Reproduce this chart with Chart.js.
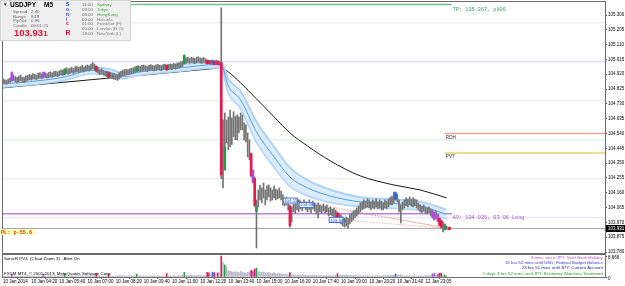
<!DOCTYPE html>
<html lang="en">

<head>
    <meta charset="UTF-8">
    <title>USDJPY M5</title>
    <style>
        html, body { margin: 0; padding: 0; background: #fff; }
        #wrap { position: relative; width: 625px; height: 286px; overflow: hidden; }
        canvas { position: absolute; left: 0; }
        #mainChart { top: 0; }
        #volChart { top: 254px; }
    </style>
</head>

<body>
    <div id="wrap">
        <canvas id="mainChart" width="625" height="254"></canvas>
        <canvas id="volChart" width="625" height="32"></canvas>
    </div>

    <script src="https://cdn.jsdelivr.net/npm/chart.js"></script>

    <script>
        // ---- data ----
        const lows = [
            104.862, 104.858, 104.855, 104.860, 104.868, 104.875, 104.880, 104.872, 104.865, 104.870,
            104.878, 104.870, 104.866, 104.872, 104.880, 104.885, 104.882, 104.888, 104.890, 104.885,
            104.892, 104.895, 104.890, 104.896, 104.900, 104.895, 104.898, 104.902, 104.900, 104.905,
            104.908, 104.905, 104.910, 104.915, 104.912, 104.918, 104.925, 104.920, 104.926, 104.930,
            104.925, 104.932, 104.935, 104.930, 104.936, 104.940, 104.935, 104.942, 104.945, 104.940,
            104.950, 104.955, 104.945, 104.935, 104.925, 104.918, 104.922, 104.915, 104.910, 104.905,
            104.898, 104.900, 104.892, 104.888, 104.885, 104.880, 104.890, 104.900, 104.908, 104.912,
            104.918, 104.915, 104.920, 104.925, 104.928, 104.930, 104.935, 104.940, 104.936, 104.940,
            104.945, 104.942, 104.938, 104.945, 104.948, 104.944, 104.940, 104.946, 104.950, 104.946,
            104.942, 104.948, 104.952, 104.945, 104.948, 104.952, 104.950, 104.955, 104.952, 104.958,
            104.960, 104.965, 104.970, 104.985, 104.990, 104.995, 104.990, 104.995, 104.992, 104.988,
            104.995, 104.998, 104.992, 104.990, 104.995, 104.990, 104.985, 104.988, 104.982, 104.985,
            104.980, 104.984, 104.980, 104.978,
            104.250, 104.191, 104.306, 104.480, 104.435, 104.454, 104.470, 104.520, 104.500, 104.499,
            104.544, 104.563, 104.563, 104.499, 104.486, 104.390, 104.371, 104.261, 104.223, 104.069,
            103.806, 104.069, 104.114, 104.095, 104.127, 104.082, 104.114, 104.133, 104.107, 104.114,
            104.127, 104.114, 104.120, 104.127, 104.114, 104.082, 104.075, 104.082, 104.050, 103.940,
            103.973, 104.037, 104.030, 104.050, 104.037, 104.056, 104.043, 104.062, 104.050, 104.037,
            104.050, 104.030, 104.056, 104.043, 104.024, 103.998, 104.037, 104.030, 104.043, 104.030,
            104.037, 104.011, 104.018, 104.011, 103.998, 103.985, 103.966, 103.973, 103.960, 103.947,
            103.940, 103.947, 103.934, 103.960, 103.973, 103.985, 103.998, 104.011, 104.024, 104.037,
            104.050, 104.056, 104.062, 104.069, 104.062, 104.050, 104.062, 104.056, 104.069, 104.056,
            104.062, 104.050, 104.050, 104.062, 104.056, 104.069, 104.082, 104.082, 104.095, 104.114,
            104.101, 104.037, 103.966, 104.050, 104.062, 104.075, 104.069, 104.082, 104.075, 104.069,
            104.075, 104.062, 104.050, 104.037, 104.030, 104.043, 104.030, 104.024, 104.030, 104.011,
            103.998, 103.985, 103.992, 103.973, 103.947, 103.934, 103.908, 103.921, 103.925
        ];
        const highs = [
            104.893, 104.884, 104.880, 104.890, 104.895, 104.935, 104.915, 104.905, 104.900, 104.908,
            104.915, 104.902, 104.898, 104.910, 104.912, 104.920, 104.915, 104.925, 104.920, 104.915,
            104.928, 104.930, 104.922, 104.935, 104.930, 104.925, 104.932, 104.936, 104.930, 104.938,
            104.940, 104.935, 104.942, 104.948, 104.945, 104.955, 104.962, 104.955, 104.960, 104.965,
            104.958, 104.968, 104.972, 104.965, 104.970, 104.978, 104.968, 104.975, 104.980, 104.975,
            104.985, 104.995, 104.985, 104.975, 104.962, 104.950, 104.955, 104.945, 104.940, 104.938,
            104.935, 104.930, 104.925, 104.922, 104.918, 104.915, 104.930, 104.938, 104.945, 104.950,
            104.952, 104.948, 104.955, 104.958, 104.962, 104.968, 104.972, 104.975, 104.970, 104.978,
            104.980, 104.975, 104.972, 104.978, 104.982, 104.976, 104.975, 104.980, 104.984, 104.978,
            104.975, 104.982, 104.985, 104.980, 104.983, 104.986, 104.984, 104.990, 104.986, 104.992,
            104.995, 105.000, 105.005, 105.045, 105.025, 105.030, 105.022, 105.028, 105.025, 105.020,
            105.030, 105.032, 105.025, 105.022, 105.028, 105.020, 105.012, 105.010, 105.008, 105.012,
            105.005, 105.010, 105.006, 105.002,
            105.346, 104.627, 104.672, 104.627, 104.647, 104.691, 104.640, 104.680, 104.650, 104.659,
            104.647, 104.672, 104.659, 104.608, 104.595, 104.544, 104.499, 104.415, 104.306, 104.261,
            104.114, 104.178, 104.210, 104.191, 104.223, 104.178, 104.204, 104.210, 104.191, 104.178,
            104.204, 104.184, 104.178, 104.191, 104.171, 104.146, 104.127, 104.133, 104.114, 104.082,
            104.069, 104.095, 104.088, 104.101, 104.114, 104.107, 104.095, 104.114, 104.101, 104.088,
            104.114, 104.095, 104.107, 104.095, 104.082, 104.095, 104.082, 104.075, 104.088, 104.075,
            104.082, 104.062, 104.069, 104.056, 104.062, 104.050, 104.037, 104.024, 104.018, 104.005,
            103.998, 104.005, 103.998, 104.018, 104.030, 104.043, 104.050, 104.062, 104.075, 104.095,
            104.101, 104.114, 104.107, 104.120, 104.114, 104.101, 104.114, 104.107, 104.120, 104.101,
            104.114, 104.107, 104.095, 104.114, 104.107, 104.120, 104.133, 104.139, 104.165, 104.165,
            104.152, 104.114, 104.082, 104.101, 104.114, 104.127, 104.120, 104.133, 104.120, 104.127,
            104.120, 104.114, 104.095, 104.082, 104.075, 104.082, 104.069, 104.062, 104.069, 104.056,
            104.050, 104.037, 104.043, 104.024, 103.998, 103.985, 103.973, 103.960, 103.945
        ];
        const volumes = [
            420, 380, 300, 350, 410, 1300, 520, 380, 300, 360,
            410, 330, 290, 380, 450, 520, 400, 470, 380, 350,
            430, 460, 380, 1200, 420, 360, 390, 450, 380, 420,
            460, 390, 420, 480, 520, 1400, 560, 430, 480, 510,
            440, 490, 530, 420, 460, 510, 400, 470, 520, 450,
            560, 640, 520, 1500, 610, 480, 420, 450, 390, 370,
            1300, 400, 380, 430, 410, 470, 520, 560, 490, 450,
            420, 400, 450, 480, 430, 460, 1200, 480, 430, 400,
            430, 390, 370, 420, 450, 400, 380, 420, 460, 410,
            380, 430, 470, 1400, 420, 450, 400, 480, 430, 520,
            560, 620, 700, 1900, 820, 760, 650, 690, 610, 580,
            640, 700, 620, 580, 650, 600, 1900, 1700, 900, 2000,
            1800, 1000, 1700, 1100,
            8666, 6200, 5000, 4200, 2600, 2300,
            2100, 1900, 2200, 2000, 1800, 2300, 2000, 1700, 1600, 1900, 2100,
            2800, 2500, 3300, 3700,
            2200, 2000, 1900, 2100, 1800, 1700, 1900, 1600, 1500, 1700, 1400, 1300, 1500, 1200, 1100,
            1000, 1200, 900,
            1800,
            900, 800, 850, 700, 750, 650, 700, 800, 600, 650, 700, 550, 600, 650, 700, 550, 500, 600, 550, 500,
            650, 600, 550, 500, 600, 700,
            1400,
            700, 650, 800, 750, 900, 700, 650, 600, 550,
            600, 550, 500, 480, 520, 450, 500, 550, 480, 420, 460, 500, 440, 480, 520, 460, 500, 550, 600, 650,
            700, 800, 750,
            1200,
            700, 650, 900,
            500, 450, 480, 420, 460, 400, 440, 420, 380, 400, 450, 420, 480, 500,
            550, 600, 650,
            1300, 1400,
            700,
            1200, 1500, 1600,
            900, 800, 600
        ];

        // SonicR PVA coloured candles: bar index, open, close, kind
        const pvaIdx = [5, 23, 35, 53, 60, 76, 93, 103, 116, 117, 119, 120, 122, 124, 126, 141, 142, 143, 144, 163, 190, 223, 244, 245, 247, 248, 249, 251];
        const pvaOpen = [104.880, 104.900, 104.920, 104.970, 104.930, 104.938, 104.978, 104.988, 105.010, 105.008, 104.990, 105.004, 105.004, 104.993, 104.306, 104.410, 104.300, 104.250, 104.040, 104.075, 104.030, 104.120, 104.045, 104.030, 104.020, 103.995, 103.980, 103.925];
        const pvaClose = [104.930, 104.932, 104.952, 104.940, 104.900, 104.968, 104.948, 105.040, 104.988, 104.990, 105.008, 104.982, 104.982, 104.274, 104.454, 104.270, 104.230, 104.080, 104.070, 103.950, 103.975, 104.160, 104.005, 103.990, 103.980, 103.952, 103.940, 103.955];
        const pvaType = ['P', 'P', 'G', 'R', 'R', 'G', 'R', 'G', 'R', 'R', 'B', 'R', 'R', 'R', 'G', 'R', 'P', 'R', 'G', 'R', 'R', 'B', 'P', 'P', 'P', 'R', 'R', 'G'];

        // moving averages, read at a few bars
        const maIdx = [0, 15, 34, 51, 61, 67, 78, 102, 121, 124, 128, 135, 144, 154, 163, 173, 186, 203, 222, 237, 252];
        const slowMA = [104.833, 104.849, 104.868, 104.886, 104.896, 104.902, 104.913, 104.938, 104.958, 104.961, 104.935, 104.865, 104.762, 104.647, 104.544, 104.460, 104.364, 104.268, 104.210, 104.178, 104.127];
        const bandMid = [104.858, 104.872, 104.900, 104.945, 104.932, 104.912, 104.935, 104.962, 104.982, 104.978, 104.845, 104.756, 104.550, 104.390, 104.261, 104.191, 104.139, 104.101, 104.090, 104.075, 104.022];
        const bandHigh = [104.878, 104.892, 104.920, 104.965, 104.952, 104.932, 104.955, 104.982, 105.002, 104.998, 104.890, 104.811, 104.615, 104.455, 104.321, 104.241, 104.179, 104.131, 104.118, 104.103, 104.052];
        const bandLow = [104.838, 104.852, 104.880, 104.925, 104.912, 104.892, 104.915, 104.942, 104.962, 104.958, 104.800, 104.701, 104.485, 104.325, 104.201, 104.141, 104.099, 104.071, 104.062, 104.047, 103.992];

        // horizontal objects
        const levelNames = ['TP', 'r2', 'round', 'r1', 'RDH', 'green', 'PVT', 's1', 'AV', 'round2', 'bid'];
        const levelPrices = [105.367, 105.250, 105.000, 104.750, 104.540, 104.499, 104.415, 104.249, 104.026, 104.000, 103.931];
        const levelFrom = [0, 0, 0, 0, 251, 0, 251, 0, 0, 0, 0];
        const levelTo = [255, 342, 342, 342, 342, 342, 342, 342, 255, 342, 342];

        // open trades
        const tradeIdx = [159, 168, 185];
        const tradePrice = [104.110, 104.082, 103.985];
        const tradeText = ['104.110', '104.082', '103.985'];

        const lastPrice = 103.931;
        const lastIdx = 253.5;

        const priceTicks = [103.780, 103.875, 103.970, 104.065, 104.160, 104.255, 104.350, 104.445, 104.540, 104.635, 104.730, 104.825, 104.920, 105.015, 105.110, 105.205, 105.300];
        const timeTickIdx = [0, 16, 32, 48, 64, 80, 96, 112, 128, 144, 160, 176, 192, 208, 224, 240];
        const timeLabels = ['10 Jan 2014', '10 Jan 04:20', '10 Jan 05:40', '10 Jan 07:00', '10 Jan 08:20', '10 Jan 09:40', '10 Jan 11:00', '10 Jan 12:20', '10 Jan 13:40', '10 Jan 15:00', '10 Jan 16:20', '10 Jan 17:40', '10 Jan 19:00', '10 Jan 20:20', '10 Jan 21:40', '12 Jan 23:05'];

        // ---- styles ----
        const SLOTS = 342;
        const PVA_COLORS = { R: '#e3194f', G: '#1e9e48', B: '#2f62e8', P: '#b44be6' };
        const levelColors = ['#70c090', '#e6e6e6', '#d2d2f6', '#e8e8e8', '#f2a49c', '#d6efd6', '#e2d466', '#ebebeb', '#c07ee6', '#e2e2f4', '#a6a6a6'];
        const levelWidths = [1.5, 1, 1, 1, 1.5, 1, 1.5, 1, 1.5, 1, 1];
        const FONT = "'Liberation Sans', Arial, sans-serif";
        const MONO = "'Liberation Mono', 'DejaVu Sans Mono', monospace";

        Chart.defaults.font.family = FONT;
        Chart.defaults.animation = false;

        function pts(xs, ys) {
            return xs.map((x, k) => ({ x: x, y: ys[k] }));
        }

        // keep the plot area exactly where the frame is
        function noPadding(s) {
            s.paddingTop = 0;
            s.paddingBottom = 0;
            s.paddingLeft = 0;
            s.paddingRight = 0;
        }

        const volColor = lows.map((v, i) => {
            const k = pvaIdx.indexOf(i);
            return k >= 0 ? PVA_COLORS[pvaType[k]] : '#b9b9c9';
        });

        const levelSets = levelPrices.map((p, k) => ({
            type: 'line',
            data: [{ x: levelFrom[k], y: p }, { x: levelTo[k], y: p }],
            borderColor: levelColors[k],
            borderWidth: levelWidths[k],
            pointRadius: 0,
            order: 20
        }));

        const tradeLines = tradeIdx.map((t, k) => ({
            type: 'line',
            data: [{ x: t + 8, y: tradePrice[k] }, { x: lastIdx, y: lastPrice }],
            borderColor: '#f08a80',
            borderWidth: 1,
            borderDash: [1, 2],
            pointRadius: 0,
            order: 3
        }));

        // text and frame drawn on top of the main panel
        const mainDecor = {
            id: 'mainDecor',
            afterDraw(chart) {
                const { ctx, chartArea: a, scales: { x, y } } = chart;
                ctx.save();
                ctx.strokeStyle = '#6c6c6c';
                ctx.lineWidth = 1;
                ctx.strokeRect(a.left - 0.5, a.top - 0.5, a.right - a.left + 1, a.bottom - a.top + 1);

                ctx.textBaseline = 'top';
                // TP / AV object texts
                ctx.font = '5.2px ' + MONO;
                ctx.fillStyle = '#3c9a66';
                ctx.fillText('TP: 105.367, p806', x.getPixelForValue(levelTo[0]) + 1, y.getPixelForValue(levelPrices[0]) + 2);
                ctx.fillStyle = '#a050e0';
                ctx.fillText('AV: 104.026, 03:06 Long', x.getPixelForValue(levelTo[8]) + 1, y.getPixelForValue(levelPrices[8]) + 1);

                ctx.font = '4.6px ' + FONT;
                ctx.fillStyle = '#303030';
                ctx.fillText('RDH', x.getPixelForValue(levelFrom[4]) + 1, y.getPixelForValue(levelPrices[4]) + 1.5);
                ctx.fillText('PVT', x.getPixelForValue(levelFrom[6]) + 1, y.getPixelForValue(levelPrices[6]) + 1.5);

                // trade price labels
                ctx.textBaseline = 'middle';
                tradeIdx.forEach((t, k) => {
                    const px = x.getPixelForValue(t);
                    const py = y.getPixelForValue(tradePrice[k]);
                    ctx.fillStyle = '#ffffff';
                    ctx.fillRect(px, py - 3, 15, 6);
                    ctx.strokeStyle = '#3d6de8';
                    ctx.strokeRect(px + 0.5, py - 2.5, 14, 5);
                    ctx.fillStyle = '#2448c8';
                    ctx.font = '4.4px ' + FONT;
                    ctx.fillText(tradeText[k], px + 1.3, py + 0.3);
                });

                // PL label
                ctx.font = 'bold 5.2px ' + MONO;
                ctx.fillStyle = '#ffffb8';
                ctx.fillRect(0, 229, 35, 6);
                ctx.fillStyle = '#e03020';
                ctx.fillText('PL: p-55.6', 1, 232.3);

                // bid box on the price axis
                const by = y.getPixelForValue(lastPrice);
                ctx.fillStyle = '#000';
                ctx.fillRect(a.right + 1, by - 3.5, 625 - a.right - 1, 7);
                ctx.fillStyle = '#fff';
                ctx.font = '4.5px ' + FONT;
                ctx.fillText(lastPrice.toFixed(3), a.right + 3, by + 0.3);

                drawInfoBox(ctx);
                ctx.restore();
            }
        };

        function drawInfoBox(ctx) {
            ctx.fillStyle = '#efefef';
            ctx.fillRect(0, 0, 131, 41);
            ctx.strokeStyle = '#d4d4d4';
            ctx.strokeRect(0.5, 0.5, 130, 40);
            ctx.textBaseline = 'middle';

            ctx.fillStyle = '#000';
            ctx.font = '4.5px ' + FONT;
            ctx.fillText('▼', 3, 5);
            ctx.font = 'bold 6.5px ' + FONT;
            ctx.fillText('USDJPY', 10, 5.3);
            ctx.fillText('M5', 44, 5.3);

            ctx.font = '4.4px ' + FONT;
            ctx.fillStyle = '#666';
            [['Spread', '2.40'], ['Range', '84.8'], ['Pip/Val', '0.96'], ['Candle', '00:01:21']].forEach((r, k) => {
                ctx.fillText(r[0], 13, 12 + k * 4.5);
                ctx.fillText(r[1], 31, 12 + k * 4.5);
            });

            ctx.font = 'bold 9.5px ' + FONT;
            ctx.fillStyle = '#e0103c';
            ctx.fillText('103.93', 14, 33.5);
            const w = ctx.measureText('103.93').width;
            ctx.font = 'bold 8px ' + FONT;
            ctx.fillText('1', 14 + w + 0.3, 33.8);

            const sonic = [['S', '#2040e0', 5], ['o', '#2040e0', 10], ['n', '#2040e0', 15], ['i', '#8040d0', 19.5], ['c', '#e0103c', 24]];
            ctx.font = 'bold 5px ' + FONT;
            sonic.forEach(s => { ctx.fillStyle = s[1]; ctx.fillText(s[0], 66, s[2]); });
            ctx.font = 'bold 7px ' + FONT;
            ctx.fillStyle = '#e0103c';
            ctx.fillText('R', 65.5, 33.5);

            const sessions = [['11:00', 'Sydney', 1], ['09:00', 'Tokyo', 1], ['08:00', 'HongKong', 1], ['02:00', 'Helsinki', 0],
                ['01:00', 'Frankfurt (F)', 0], ['00:00', 'London (B.O)', 0], ['19:00', 'NewYork (L)', 0]];
            ctx.font = '4.4px ' + FONT;
            sessions.forEach((s, k) => {
                const yy = 5 + k * 4.8;
                ctx.fillStyle = '#707070';
                ctx.fillText(s[0], 82, yy);
                ctx.fillStyle = s[2] ? '#3aaa3a' : '#808080';
                ctx.fillText(s[1], 97, yy);
            });
        }

        const mainCtx = document.getElementById('mainChart').getContext('2d');
        const mainChart = new Chart(mainCtx, {
            type: 'bar',
            data: {
                datasets: [
                    {
                        data: pts(pvaIdx, pvaOpen.map((o, k) => [o, pvaClose[k]])),
                        backgroundColor: pvaType.map(t => PVA_COLORS[t]),
                        barThickness: 2,
                        grouped: false,
                        order: 1
                    },
                    {
                        data: lows.map((lo, i) => ({ x: i, y: [lo, highs[i]] })),
                        backgroundColor: '#747474',
                        barThickness: 1,
                        grouped: false,
                        order: 2
                    },
                    {
                        type: 'line',
                        data: [{ x: lastIdx, y: lastPrice }],
                        showLine: false,
                        pointStyle: 'rect',
                        pointRadius: 1.6,
                        backgroundColor: '#e82020',
                        borderColor: '#e82020',
                        order: 0
                    },
                    ...tradeLines,
                    {
                        type: 'line',
                        data: pts(maIdx, bandMid),
                        borderColor: '#4a9eee',
                        borderWidth: 1,
                        pointRadius: 0,
                        cubicInterpolationMode: 'monotone',
                        order: 4
                    },
                    {
                        type: 'line',
                        data: pts(maIdx, bandHigh),
                        borderColor: '#acd3f6',
                        borderWidth: 2,
                        pointRadius: 0,
                        cubicInterpolationMode: 'monotone',
                        fill: '+1',
                        backgroundColor: 'rgba(206, 228, 250, 0.7)',
                        order: 5
                    },
                    {
                        type: 'line',
                        data: pts(maIdx, bandLow),
                        borderColor: '#acd3f6',
                        borderWidth: 2,
                        pointRadius: 0,
                        cubicInterpolationMode: 'monotone',
                        order: 5
                    },
                    {
                        type: 'line',
                        data: pts(maIdx, slowMA),
                        borderColor: '#1a1a1a',
                        borderWidth: 1,
                        pointRadius: 0,
                        cubicInterpolationMode: 'monotone',
                        order: 6
                    },
                    ...levelSets
                ]
            },
            options: {
                responsive: false,
                animation: false,
                layout: { autoPadding: false, padding: { left: 3, top: 2, right: 0, bottom: 1 } },
                plugins: { legend: { display: false }, tooltip: { enabled: false } },
                scales: {
                    x: { type: 'linear', min: 0, max: SLOTS, display: false, offset: false },
                    y: {
                        position: 'right',
                        min: 103.7736,
                        max: 105.3834,
                        afterFit(s) { s.width = 20; noPadding(s); },
                        afterBuildTicks(s) { s.ticks = priceTicks.map(v => ({ value: v })); },
                        ticks: { font: { size: 4.5 }, color: '#000', padding: 1, callback: v => v.toFixed(3) },
                        grid: { drawOnChartArea: false, tickLength: 2, color: '#555' },
                        border: { color: '#6c6c6c' }
                    }
                }
            },
            plugins: [mainDecor]
        });

        // ---- volume sub-window ----
        const volDecor = {
            id: 'volDecor',
            afterDraw(chart) {
                const { ctx, chartArea: a } = chart;
                ctx.save();
                ctx.strokeStyle = '#6c6c6c';
                ctx.strokeRect(a.left - 0.5, a.top - 0.5, a.right - a.left + 1, a.bottom - a.top + 1);
                ctx.textBaseline = 'middle';
                ctx.font = '4.4px ' + FONT;
                ctx.fillStyle = '#000';
                ctx.fillText('SonicR PV4  (Chart Zoom 3)   Alert On', 4, 5);
                ctx.fillText('FXCM MT4, \u00a9 2001-2013, MetaQuotes Software Corp.', 4, 20);

                const events = [['3 mins since JPY: Start Bank Holiday', '#b050e0'],
                    ['15 hrs 52 mins until USD: Federal Budget Balance', '#3434e4'],
                    ['23 hrs 52 mins until JPY: Current Account', '#22229a'],
                    ['1 days 4 hrs 52 mins until JPY: Economy Watchers Sentiment', '#1f9a28']];
                ctx.textAlign = 'right';
                events.forEach((e, k) => {
                    ctx.fillStyle = e[1];
                    ctx.fillText(e[0], a.right - 2, 3.5 + k * 5.3);
                });
                ctx.restore();
            }
        };

        const volCtx = document.getElementById('volChart').getContext('2d');
        const volChart = new Chart(volCtx, {
            type: 'bar',
            data: {
                datasets: [{
                    data: volumes.map((v, i) => ({ x: i, y: v })),
                    backgroundColor: volColor,
                    barThickness: 1,
                    grouped: false
                }]
            },
            options: {
                responsive: false,
                animation: false,
                layout: { autoPadding: false, padding: { left: 3, top: 1, right: 0, bottom: 0 } },
                plugins: { legend: { display: false }, tooltip: { enabled: false } },
                scales: {
                    x: {
                        type: 'linear',
                        min: 0,
                        max: SLOTS,
                        offset: false,
                        afterFit(s) { s.height = 9; noPadding(s); },
                        afterBuildTicks(s) { s.ticks = timeTickIdx.map(v => ({ value: v })); },
                        ticks: {
                            align: 'start',
                            autoSkip: false,
                            maxRotation: 0,
                            minRotation: 0,
                            padding: 0,
                            font: { size: 4.5 },
                            color: '#000',
                            callback: v => timeLabels[timeTickIdx.indexOf(v)]
                        },
                        grid: { drawOnChartArea: false, tickLength: 2, color: '#555' },
                        border: { color: '#6c6c6c' }
                    },
                    y: {
                        position: 'right',
                        min: 0,
                        max: 9100,
                        afterFit(s) { s.width = 20; noPadding(s); },
                        afterBuildTicks(s) { s.ticks = [{ value: 0 }, { value: 8666 }]; },
                        ticks: { font: { size: 4.5 }, color: '#000', padding: 1, labelOffset: 2 },
                        grid: { drawOnChartArea: false, tickLength: 2, color: '#555' },
                        border: { color: '#6c6c6c' }
                    }
                }
            },
            plugins: [volDecor]
        });
    </script>

</body>

</html>
